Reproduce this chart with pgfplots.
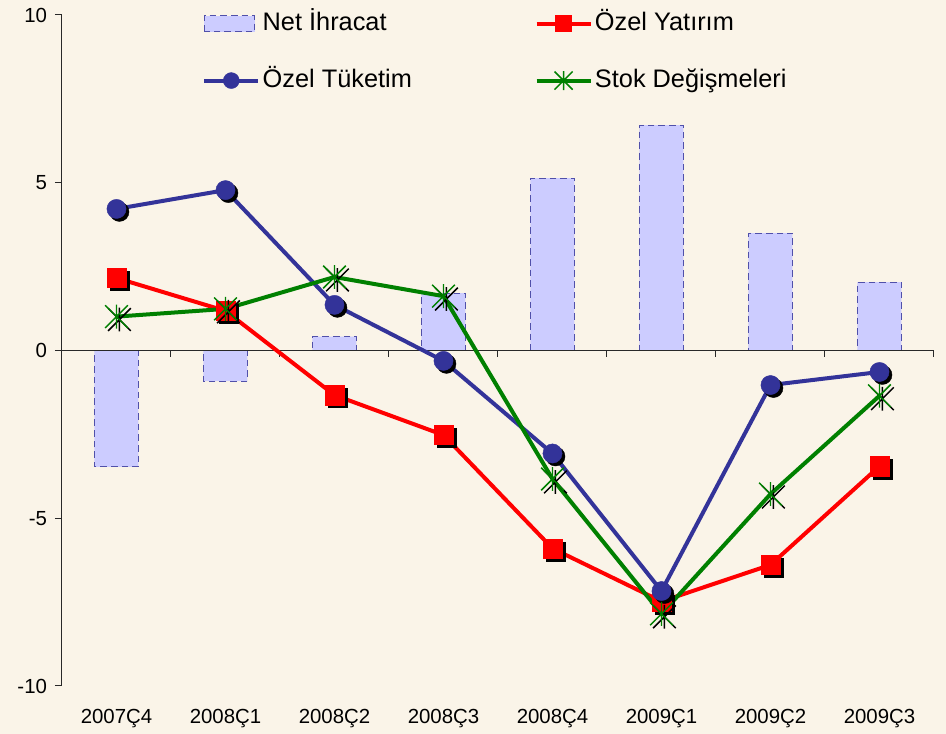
\documentclass[border=0pt]{standalone}
\usepackage{pgfplots}
\pgfplotsset{compat=1.18}
\usepackage{fontspec}
\setmainfont{Liberation Sans}
\definecolor{bgcol}{RGB}{250,244,232}
\definecolor{cblue}{RGB}{51,51,153}
\definecolor{cred}{RGB}{255,0,0}
\definecolor{cgreen}{RGB}{0,128,0}
\definecolor{barfill}{RGB}{204,204,255}
\definecolor{baredge}{RGB}{80,80,170}
\definecolor{axcol}{RGB}{40,40,40}
\pgfdeclareplotmark{xstar}{%
  \pgfpathmoveto{\pgfqpoint{-\pgfplotmarksize}{-\pgfplotmarksize}}%
  \pgfpathlineto{\pgfqpoint{\pgfplotmarksize}{\pgfplotmarksize}}%
  \pgfpathmoveto{\pgfqpoint{-\pgfplotmarksize}{\pgfplotmarksize}}%
  \pgfpathlineto{\pgfqpoint{\pgfplotmarksize}{-\pgfplotmarksize}}%
  \pgfpathmoveto{\pgfqpoint{0pt}{-1.05\pgfplotmarksize}}%
  \pgfpathlineto{\pgfqpoint{0pt}{1.05\pgfplotmarksize}}%
  \pgfusepathqstroke}
\pgfplotsset{
  lineleg/.style={legend image code/.code={%
    \draw[mark repeat=2,mark phase=2,##1,mark size=#1] plot coordinates {(0pt,0pt) (20.25pt,0pt) (40.5pt,0pt)};}},
  barleg/.style={legend image code/.code={\draw[##1] (0pt,-6pt) rectangle (38pt,6pt);}},
  shadow/.style={only marks, black, forget plot, mark options={solid, xshift=2.2pt, yshift=-2.2pt, line width=#1}},
  shadow/.default=0.3pt,
}
\begin{document}
\begin{tikzpicture}
\path[use as bounding box, fill=bgcol] (-46.5pt,-36pt) rectangle (663pt,514.5pt);
\begin{axis}[
  scale only axis, width=654pt, height=503.25pt,
  xmin=-0.5, xmax=7.5, ymin=-10, ymax=10,
  axis y line=left, axis x line=bottom,
  axis line style={-, draw=axcol, line width=0.75pt},
  x axis line style={draw=none},
  xtick={0,...,7},
  xticklabels={2007Ç4,2008Ç1,2008Ç2,2008Ç3,2008Ç4,2009Ç1,2009Ç2,2009Ç3},
  x tick style={draw=none},
  ytick={-10,-5,0,5,10}, yticklabels={-10,-5,0,5,10},
  tick align=outside, major tick length=5.25pt,
  y tick style={axcol, line width=0.75pt},
  tick label style={font=\fontsize{15.3}{18}\selectfont},
  xticklabel style={yshift=-9pt},
  yticklabel style={xshift=-2.5pt},
  legend columns=2,
  legend style={draw=none, fill=none, at={(axis description cs:0.1606,1.0055)}, anchor=north west,
    font=\fontsize{19}{23}\selectfont, inner sep=0pt, column sep=0pt, row sep=24.75pt,
    nodes={inner sep=0pt, text height=14pt, text depth=4pt},
    /tikz/every odd column/.append style={column sep=1.8pt},
    /tikz/column 2/.style={column sep=92pt}},
  legend cell align=left,
  clip=false,
]
\addplot[ybar, bar width=33pt, fill=barfill, draw=baredge, line width=0.75pt, dash pattern=on 5pt off 3pt, barleg]
  coordinates {(0,-3.47) (1,-0.91) (2,0.41) (3,1.71) (4,5.14) (5,6.72) (6,3.50) (7,2.04)};
\addlegendentry{Net İhracat}
\draw[axcol, line width=0.75pt] (axis cs:-0.5,0) -- (axis cs:7.5,0);
\pgfplotsinvokeforeach{0.5,1.5,2.5,3.5,4.5,5.5,6.5,7.5}{
  \draw[axcol, line width=0.75pt] (axis cs:#1,0) -- ++(0pt,-5.25pt);
}
% Ozel Yatirim
\addplot[shadow, mark=square*, mark size=7.2pt]
  coordinates {(0,2.16) (1,1.18) (2,-1.33) (3,-2.52) (4,-5.90) (5,-7.48) (6,-6.39) (7,-3.45)};
\addplot[cred, line width=3pt, mark=square*, mark size=7.2pt, mark options={solid, line width=0.3pt}, lineleg=6pt]
  coordinates {(0,2.16) (1,1.18) (2,-1.33) (3,-2.52) (4,-5.90) (5,-7.48) (6,-6.39) (7,-3.45)};
\addlegendentry{Özel Yatırım}
% Ozel Tuketim
\addplot[shadow, mark=*, mark size=7.2pt]
  coordinates {(0,4.22) (1,4.78) (2,1.36) (3,-0.31) (4,-3.07) (5,-7.17) (6,-1.03) (7,-0.64)};
\addplot[cblue, line width=3pt, mark=*, mark size=7.2pt, mark options={solid, line width=0.3pt}, lineleg=6pt]
  coordinates {(0,4.22) (1,4.78) (2,1.36) (3,-0.31) (4,-3.07) (5,-7.17) (6,-1.03) (7,-0.64)};
\addlegendentry{Özel Tüketim}
% Stok Degismeleri
\addplot[shadow=1.1pt, mark=xstar, mark size=8.5pt]
  coordinates {(0,1.01) (1,1.24) (2,2.19) (3,1.62) (4,-3.83) (5,-7.85) (6,-4.28) (7,-1.35)};
\addplot[cgreen, line width=3pt, mark=xstar, mark size=8.5pt, mark options={solid, line width=1.1pt}, lineleg=6.8pt]
  coordinates {(0,1.01) (1,1.24) (2,2.19) (3,1.62) (4,-3.83) (5,-7.85) (6,-4.28) (7,-1.35)};
\addlegendentry{Stok Değişmeleri}
\end{axis}
\end{tikzpicture}
\end{document}
